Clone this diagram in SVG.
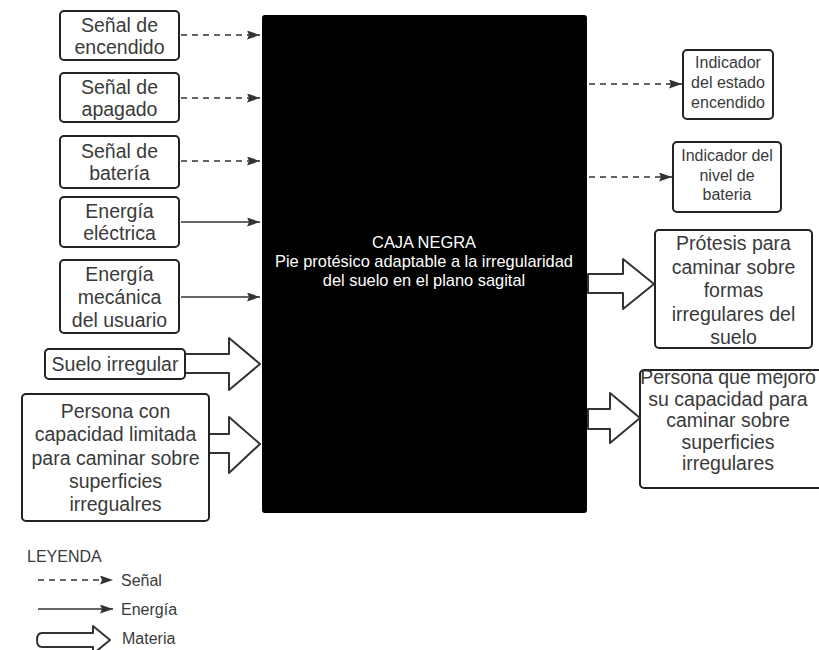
<svg xmlns="http://www.w3.org/2000/svg" width="819" height="650" viewBox="0 0 819 650">
<style>
.box{fill:#fff;stroke:#222;stroke-width:2}
.t{font-family:"Liberation Sans",Arial,sans-serif;font-size:19.5px;fill:#3a3a3a;text-anchor:middle}
.ts{font-family:"Liberation Sans",Arial,sans-serif;font-size:16px;fill:#3a3a3a;text-anchor:middle}
.tw{font-family:"Liberation Sans",Arial,sans-serif;font-size:16.4px;fill:#fff;text-anchor:middle}
.lg{font-family:"Liberation Sans",Arial,sans-serif;font-size:16px;fill:#3a3a3a}
.sig{fill:none;stroke:#333;stroke-width:1.3;stroke-dasharray:6 5}
.en{fill:none;stroke:#333;stroke-width:1.3}
.mat{fill:#fff;stroke:#333;stroke-width:2;stroke-linejoin:round}
</style>
<defs>
<marker id="ah" markerUnits="userSpaceOnUse" markerWidth="14" markerHeight="10" refX="13" refY="4.5" orient="auto">
<path d="M0,0 L13,4.5 L0,9 L2,4.5 z" fill="#333"/>
</marker>
</defs>
<rect width="819" height="650" fill="#fff"/>

<g id="caja-negra">
<rect x="262" y="15" width="325" height="498" rx="3" fill="#000"/>
<text class="tw" x="424" y="248">CAJA NEGRA</text>
<text class="tw" x="424" y="267">Pie protésico adaptable a la irregularidad</text>
<text class="tw" x="424" y="286">del suelo en el plano sagital</text>
</g>

<g id="in-encendido">
<rect class="box" x="60" y="11" width="119" height="49" rx="4"/>
<text class="t" x="119.5" y="31.5">Señal de</text>
<text class="t" x="119.5" y="53.5">encendido</text>
</g>
<g id="in-apagado">
<rect class="box" x="60" y="73" width="119" height="49" rx="4"/>
<text class="t" x="119.5" y="93.5">Señal de</text>
<text class="t" x="119.5" y="115.5">apagado</text>
</g>
<g id="in-bateria">
<rect class="box" x="60" y="136" width="119" height="52" rx="4"/>
<text class="t" x="119.5" y="158">Señal de</text>
<text class="t" x="119.5" y="180">batería</text>
</g>
<g id="in-electrica">
<rect class="box" x="60" y="197" width="119" height="50" rx="4"/>
<text class="t" x="119.5" y="218">Energía</text>
<text class="t" x="119.5" y="240">eléctrica</text>
</g>
<g id="in-mecanica">
<rect class="box" x="60" y="260" width="119" height="73" rx="4"/>
<text class="t" x="119.5" y="280.5">Energía</text>
<text class="t" x="119.5" y="303.5">mecánica</text>
<text class="t" x="119.5" y="326.5">del usuario</text>
</g>
<g id="in-suelo">
<rect class="box" x="45" y="349" width="140" height="30" rx="4"/>
<text class="t" x="115" y="371">Suelo irregular</text>
</g>
<g id="in-persona">
<rect class="box" x="22" y="394" width="187" height="127" rx="4"/>
<text class="t" x="115.5" y="418">Persona con</text>
<text class="t" x="115.5" y="441">capacidad limitada</text>
<text class="t" x="115.5" y="464.5">para caminar sobre</text>
<text class="t" x="115.5" y="488">superficies</text>
<text class="t" x="115.5" y="511">irregualres</text>
</g>

<g id="out-estado">
<rect class="box" x="683" y="50" width="90" height="69" rx="4"/>
<text class="ts" x="728" y="68">Indicador</text>
<text class="ts" x="728" y="88">del estado</text>
<text class="ts" x="728" y="108">encendido</text>
</g>
<g id="out-nivel">
<rect class="box" x="673" y="142" width="108" height="70" rx="4"/>
<text class="ts" x="727" y="161">Indicador del</text>
<text class="ts" x="727" y="180.5">nivel de</text>
<text class="ts" x="727" y="200">bateria</text>
</g>
<g id="out-protesis">
<rect class="box" x="655" y="230" width="157" height="118" rx="4"/>
<text class="t" x="733.5" y="250">Prótesis para</text>
<text class="t" x="733.5" y="273.5">caminar sobre</text>
<text class="t" x="733.5" y="297">formas</text>
<text class="t" x="733.5" y="320.5">irregulares del</text>
<text class="t" x="733.5" y="344">suelo</text>
</g>
<g id="out-persona">
<rect class="box" x="640" y="370" width="190" height="118" rx="4"/>
<text class="t" x="728" y="384">Persona que mejoró</text>
<text class="t" x="728" y="405.5">su capacidad para</text>
<text class="t" x="728" y="427">caminar sobre</text>
<text class="t" x="728" y="448.5">superficies</text>
<text class="t" x="728" y="470">irregulares</text>
</g>

<g id="connectors">
<line class="sig" x1="181" y1="35" x2="260" y2="35" marker-end="url(#ah)"/>
<line class="sig" x1="181" y1="98" x2="260" y2="98" marker-end="url(#ah)"/>
<line class="sig" x1="181" y1="161" x2="260" y2="161" marker-end="url(#ah)"/>
<line class="en" x1="181" y1="222" x2="260" y2="222" marker-end="url(#ah)"/>
<line class="en" x1="181" y1="297" x2="260" y2="297" marker-end="url(#ah)"/>
<line class="sig" x1="589" y1="84" x2="682" y2="84" marker-end="url(#ah)"/>
<line class="sig" x1="589" y1="177" x2="672" y2="177" marker-end="url(#ah)"/>
<path class="mat" d="M186,354 L229,354 L229,338 L260,364 L229,390 L229,373 L186,373"/>
<path class="mat" d="M210,434 L229,434 L229,417 L260,444 L229,473 L229,453 L210,453"/>
<path class="mat" d="M588,274 L623,274 L623,259 L654,284 L623,309 L623,293 L588,293 Z"/>
<path class="mat" d="M588,409 L610,409 L610,393 L640,418 L610,443 L610,429 L588,429 Z"/>
</g>

<g id="leyenda">
<text class="lg" x="27" y="562">LEYENDA</text>
<line class="sig" x1="38" y1="580" x2="113" y2="580" stroke-dasharray="4 4" marker-end="url(#ah)"/>
<text class="lg" x="121" y="586">Señal</text>
<line class="en" x1="38" y1="609" x2="113" y2="609" marker-end="url(#ah)"/>
<text class="lg" x="121" y="615">Energía</text>
<path class="mat" d="M93,633 L93,626 L110,640 L93,654 L93,647 L42,647 Q37,647 37,640 Q37,633 42,633 Z"/>
<text class="lg" x="122" y="644">Materia</text>
</g>
</svg>
